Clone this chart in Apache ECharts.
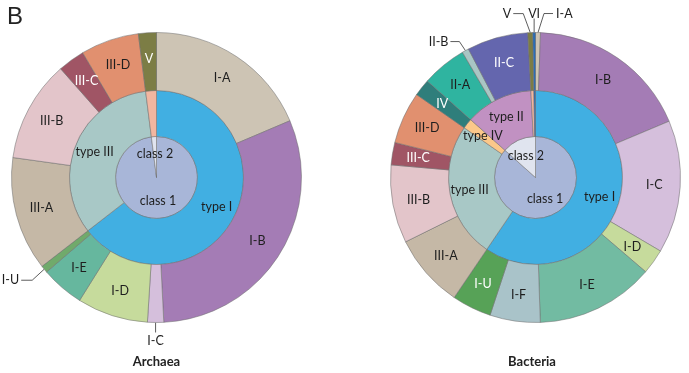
<!DOCTYPE html>
<html><head><meta charset="utf-8">
<script src="https://cdn.jsdelivr.net/npm/echarts@6/dist/echarts.min.js"></script>
<style>html,body{margin:0;padding:0;background:#fff}#c{width:689px;height:373px}</style>
</head><body><div id="c"></div>
<script>
// ---- data (share of loci, %) ----
const archaeaSubtypes = ['I-A','I-B','I-C','I-D','I-E','I-U','III-A','III-B','III-C','III-D','V'];
const archaeaShares   = [18.6, 30.6, 1.8, 7.9, 4.8, 0.8, 12.7, 11.3, 3.0, 6.5, 2.0];
const bacteriaSubtypes = ['I-A','I-B','I-C','I-D','I-E','I-F','I-U','III-A','III-B','III-C','III-D','IV','II-A','II-B','II-C','V','VI'];
const bacteriaShares   = [0.55, 18.1, 14.8, 2.8, 13.2, 5.6, 4.4, 8.2, 8.7, 2.5, 5.8, 1.9, 5.0, 0.75, 6.8, 0.55, 0.3];
const classOfType = {'I':'class 1','III':'class 1','IV':'class 1','II':'class 2','V':'class 2','VI':'class 2'};
const panelTitles = ['Archaea', 'Bacteria'];

// ---- styles ----
const FONT = 'Lato';
const colors = {
  'class 1':'#a8b6d8','class 2':'#e0e4ef',
  'type I':'#41afe2','type II':'#c191c2','type III':'#a8c8c6','type IV':'#fcc88a','type V':'#f2b6a0','type VI':'#2a6db5',
  'I-A':'#cdc4b4','I-B':'#a47cb5','I-C':'#d5bfdc','I-D':'#c6db9c','I-E':'#66b79e','I-F':'#a9c3c9','I-U':'#6aa86a',
  'III-A':'#c5b8a6','III-B':'#e3c5ca','III-C':'#a05565','III-D':'#e1906f','IV':'#2f7e7b',
  'II-A':'#2fb4a0','II-B':'#a9c6c4','II-C':'#6466ae','V':'#7c7d45','VI':'#2a6db5'
};
const archaeaColors = Object.assign({}, colors, {'I-U':'#70aa6b'});
const bacteriaColors = Object.assign({}, colors, {'I-U':'#57a257','I-E':'#72bba2'});
const whiteLabels = {archaea:['III-C','V'], bacteria:['II-C','IV','III-C','I-U']};
const hiddenLabels = ['type V','type VI'];
const callouts = {
  archaea: {
    'I-U': {path:[[-12,11],[-11,0]], tx:-2, ty:0, align:'right', va:'middle'},
    'I-C': {path:[[0,10],[0,0]], tx:0, ty:2, align:'center', va:'top'}
  },
  bacteria: {
    'II-B': {path:[[-6,-9],[-9,0]], tx:-2, ty:0, align:'right', va:'middle'},
    'V':    {path:[[-7,-19],[-10,0]], tx:-2, ty:0, align:'right', va:'middle'},
    'VI':   {path:[[0,-14],[0,0]], tx:0, ty:2, align:'center', va:'bottom'},
    'I-A':  {path:[[6,-19],[9,0]], tx:3, ty:0, align:'left', va:'middle'}
  }
};
const centers = [[156.5, 177.5], [535.5, 177.5]];
const radii = [[0, 41], [41, 87], [87, 145]];

function rings(subtypes, shares) {
  const typeNames = [], typeVals = [], classNames = [], classVals = [];
  subtypes.forEach((s, i) => {
    const t = s.split('-')[0];
    const tn = 'type ' + t, cn = classOfType[t];
    let k = typeNames.indexOf(tn); if (k < 0) { typeNames.push(tn); typeVals.push(0); k = typeNames.length - 1; }
    typeVals[k] += shares[i];
    let c = classNames.indexOf(cn); if (c < 0) { classNames.push(cn); classVals.push(0); c = classNames.length - 1; }
    classVals[c] += shares[i];
  });
  return [
    classNames.map((n, i) => ({name:n, value:classVals[i]})),
    typeNames.map((n, i) => ({name:n, value:typeVals[i]})),
    subtypes.map((n, i) => ({name:n, value:shares[i]}))
  ];
}

function makeSeries(key, subtypes, shares, center, cols) {
  const levels = rings(subtypes, shares);
  const co = callouts[key];
  return levels.map((items, li) => ({
    type:'pie', center:center, radius:radii[li], startAngle:90, clockwise:true,
    avoidLabelOverlap:false, silent:true, animation:false, minAngle:0,
    itemStyle:{borderColor:'rgba(110,110,110,0.75)', borderWidth:0.7},
    label:{show:true, position:'inside', fontFamily:FONT, fontSize:12.5, color:'#1e1e1e'},
    labelLine:{show:false},
    labelLayout: li === 2 ? function (p) {
      const name = items[p.dataIndex].name;
      const c = co[name];
      if (!c || !p.labelLinePoints) return {};
      const p0 = p.labelLinePoints[0];
      const pts = [[p0[0], p0[1]]];
      let x = p0[0], y = p0[1];
      c.path.forEach(d => { x += d[0]; y += d[1]; pts.push([x, y]); });
      return {x: x + c.tx, y: y + c.ty, align: c.align, verticalAlign: c.va, labelLinePoints: pts};
    } : null,
    data: items.map(d => {
      const o = {name:d.name, value:d.value, itemStyle:{color:cols[d.name]}};
      if (hiddenLabels.indexOf(d.name) >= 0) o.label = {show:false};
      if (li === 2 && whiteLabels[key].indexOf(d.name) >= 0) o.label = {color:'#ffffff'};
      if (li === 2 && co[d.name]) {
        o.label = {position:'outside', color:'#1e1e1e'};
        o.labelLine = {show:true, length:5, length2:5, smooth:false, lineStyle:{color:'#333', width:0.8}};
      }
      return o;
    })
  }));
}

const chart = echarts.init(document.getElementById('c'), null, {renderer:'canvas'});
chart.setOption({
  animation:false,
  backgroundColor:'#ffffff',
  graphic:[
    {type:'text', x:7, y:17, style:{text:'B', font:'24px "Liberation Sans"', fill:'#222', textVerticalAlign:'middle'}},
    {type:'text', x:centers[0][0], y:362, style:{text:panelTitles[0], font:'bold 13px Lato', fill:'#222', textAlign:'center', textVerticalAlign:'middle'}},
    {type:'text', x:532, y:362, style:{text:panelTitles[1], font:'bold 13px Lato', fill:'#222', textAlign:'center', textVerticalAlign:'middle'}}
  ],
  series: [].concat(
    makeSeries('archaea', archaeaSubtypes, archaeaShares, centers[0], archaeaColors),
    makeSeries('bacteria', bacteriaSubtypes, bacteriaShares, centers[1], bacteriaColors)
  )
});
</script></body></html>
